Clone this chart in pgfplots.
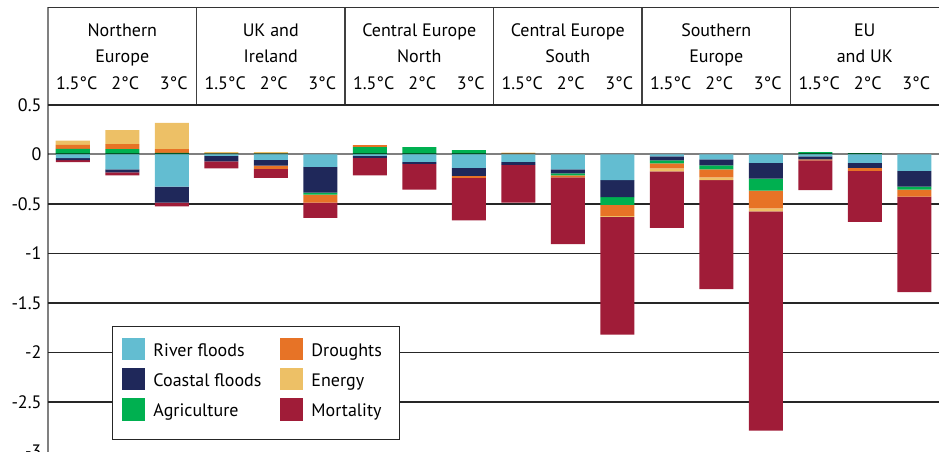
\documentclass[border=0pt]{standalone}
\usepackage{pgfplots}
\pgfplotsset{compat=1.18}
\usepackage{pgfplotstable}
\usepackage{fontspec}
\setmainfont{PT Sans}
\definecolor{riv}{HTML}{63BDD1}
\definecolor{coa}{HTML}{1F285A}
\definecolor{agr}{HTML}{00B050}
\definecolor{dro}{HTML}{E77326}
\definecolor{ene}{HTML}{EDC066}
\definecolor{mor}{HTML}{A01C38}
\newcommand{\fs}{\fontsize{18}{21}\selectfont}

% positive contributions (stacked upward from 0)
\pgfplotstableread{
x  agri   drought energy
0  0.056  0.040   0.043
1  0.055  0.050   0.140
2  0.017  0.037   0.265
3  0.010  0       0.015
4  0.010  0       0.015
5  0      0       0
6  0.074  0.020   0
7  0.074  0       0
8  0.045  0       0
9  0      0       0.020
10 0      0       0.005
11 0      0       0
12 0      0       0
13 0      0       0
14 0      0       0
15 0.025  0       0
16 0.015  0       0
17 0      0       0
}\postab

% negative contributions (stacked downward from 0)
\pgfplotstableread{
x  river   coastal agri    drought energy  mort
0  -0.037  -0.020  0       0       0       -0.020
1  -0.150  -0.030  0       0       0       -0.030
2  -0.325  -0.160  0       0       0       -0.040
3  -0.015  -0.055  0       0       0       -0.070
4  -0.055  -0.057  0       -0.033  0       -0.090
5  -0.125  -0.260  -0.020  -0.080  0       -0.155
6  -0.015  -0.020  0       0       0       -0.175
7  -0.075  -0.020  0       0       0       -0.260
8  -0.135  -0.080  0       -0.020  0       -0.430
9  -0.075  -0.030  0       0       0       -0.380
10 -0.150  -0.040  -0.020  -0.020  0       -0.675
11 -0.260  -0.170  -0.080  -0.110  -0.010  -1.190
12 -0.020  -0.040  -0.030  -0.050  -0.030  -0.570
13 -0.050  -0.060  -0.040  -0.080  -0.030  -1.100
14 -0.085  -0.160  -0.120  -0.180  -0.030  -2.215
15 -0.020  -0.030  0       -0.010  0       -0.300
16 -0.085  -0.050  0       -0.030  0       -0.515
17 -0.165  -0.160  -0.030  -0.070  0       -0.965
}\negtab

\begin{document}
\begin{tikzpicture}
\pgfplotsset{
  common/.style={
    width=891pt, height=346.5pt, scale only axis,
    xmin=-0.5, xmax=17.5, ymin=-3, ymax=0.5,
    ybar stacked, bar width=34pt,
    clip=false,
    axis line style={draw=none},
    xtick=\empty,
    major tick length=0pt,
  },
  sq/.style={legend image code/.code={\fill[##1] (0pt,-4pt) rectangle (22.6pt,18.6pt);}},
}
\begin{axis}[common,
  ytick={-3,-2.5,-2,-1.5,-1,-0.5,0,0.5},
  /pgf/number format/assume math mode=true,
  yticklabel style={font=\fs, xshift=-3pt},
]
  \pgfplotsinvokeforeach{-2.5,-2,-1.5,-1,-0.5,0.5}{
    \draw[black!85, line width=1.2pt] (axis cs:-0.5,#1) -- (axis cs:17.5,#1);
  }
  \addplot[fill=agr, draw=none] table[x=x, y=agri] {\postab};
  \addplot[fill=dro, draw=none] table[x=x, y=drought] {\postab};
  \addplot[fill=ene, draw=none] table[x=x, y=energy] {\postab};
  % header box
  \draw[black!80, line width=1.3pt] (axis cs:-0.5,1.485) -- (axis cs:17.5,1.485);
  \pgfplotsinvokeforeach{2.5,5.5,8.5,11.5,14.5}{
    \draw[black!75, line width=1.3pt] (axis cs:#1,0.5) -- (axis cs:#1,1.485);
  }
  \draw[black!50, line width=2pt] (axis cs:-0.5,-3.1) -- (axis cs:-0.5,1.49);
  % group names
  \node[font=\fs, anchor=base] at (axis cs:1,1.19) {Northern};
  \node[font=\fs, anchor=base] at (axis cs:1,0.929) {Europe};
  \node[font=\fs, anchor=base] at (axis cs:4,1.19) {UK and};
  \node[font=\fs, anchor=base] at (axis cs:4,0.929) {Ireland};
  \node[font=\fs, anchor=base] at (axis cs:7,1.19) {Central Europe};
  \node[font=\fs, anchor=base] at (axis cs:7,0.929) {North};
  \node[font=\fs, anchor=base] at (axis cs:10,1.19) {Central Europe};
  \node[font=\fs, anchor=base] at (axis cs:10,0.929) {South};
  \node[font=\fs, anchor=base] at (axis cs:13,1.19) {Southern};
  \node[font=\fs, anchor=base] at (axis cs:13,0.929) {Europe};
  \node[font=\fs, anchor=base] at (axis cs:16,1.19) {EU};
  \node[font=\fs, anchor=base] at (axis cs:16,0.929) {and UK};
  % temperature labels
  \pgfplotsinvokeforeach{0.08,3.08,6.08,9.08,12.08,15.08}{
    \node[font=\fs, anchor=base] at (axis cs:#1,0.652) {1.5°C};
  }
  \pgfplotsinvokeforeach{1.06,4.06,7.06,10.06,13.06,16.06}{
    \node[font=\fs, anchor=base] at (axis cs:#1,0.652) {2°C};
  }
  \pgfplotsinvokeforeach{2.04,5.04,8.04,11.04,14.04,17.04}{
    \node[font=\fs, anchor=base] at (axis cs:#1,0.652) {3°C};
  }
  \coordinate (BL) at (axis cs:-1.4697,-3.005);
  \coordinate (TR) at (axis cs:17.5,1.5606);
\end{axis}
\begin{axis}[common,
  hide axis,
  legend columns=2,
  legend cell align=left,
  legend style={at={(0.0718,0.362)}, anchor=north west,
    draw=black!85, line width=1pt, fill=white,
    inner xsep=10pt, inner ysep=11pt, font=\fs, row sep=0.4pt,
    nodes={inner sep=0pt, text height=11.3pt, text depth=11.3pt},
    /tikz/every odd column/.append style={column sep=8.4pt},
    /tikz/every even column/.append style={column sep=19pt}},
]
  \addlegendimage{sq, fill=riv, draw=none}
  \addlegendimage{sq, fill=dro, draw=none}
  \addlegendimage{sq, fill=coa, draw=none}
  \addlegendimage{sq, fill=ene, draw=none}
  \addlegendimage{sq, fill=agr, draw=none}
  \addlegendimage{sq, fill=mor, draw=none}
  \addplot[fill=riv, draw=none] table[x=x, y=river] {\negtab};
  \addplot[fill=coa, draw=none] table[x=x, y=coastal] {\negtab};
  \addplot[fill=agr, draw=none] table[x=x, y=agri] {\negtab};
  \addplot[fill=dro, draw=none] table[x=x, y=drought] {\negtab};
  \addplot[fill=ene, draw=none] table[x=x, y=energy] {\negtab};
  \addplot[fill=mor, draw=none] table[x=x, y=mort] {\negtab};
  \draw[black, opacity=0.5, line width=2pt] (axis cs:-0.5,0) -- (axis cs:17.5,0);
  \legend{River floods, Droughts\hspace*{8pt}, Coastal floods, Energy, Agriculture, Mortality}
\end{axis}
\pgfresetboundingbox
\path[use as bounding box] (BL) rectangle (TR);
\end{tikzpicture}
\end{document}
